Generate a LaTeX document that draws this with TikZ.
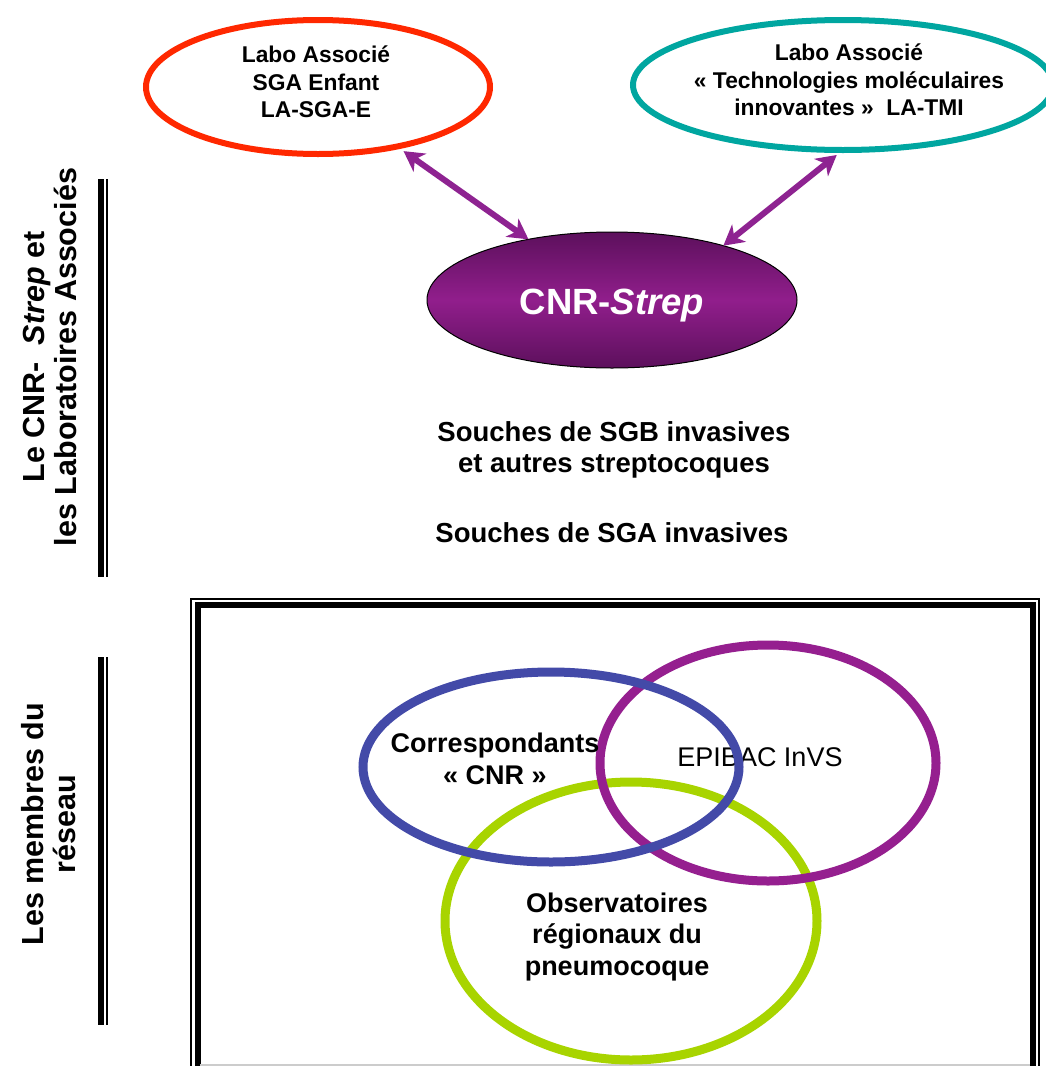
\documentclass[tikz,border=0pt]{standalone}
\usepackage{fontspec}
\setmainfont{Liberation Sans}
\usetikzlibrary{shapes.geometric,arrows.meta}
\definecolor{labred}{RGB}{255,40,0}
\definecolor{labteal}{RGB}{0,166,160}
\definecolor{cnrdark}{RGB}{92,16,92}
\definecolor{cnrlight}{RGB}{145,30,140}
\definecolor{arrowpurple}{RGB}{142,35,145}
\definecolor{vennblue}{RGB}{67,74,168}
\definecolor{vennpurple}{RGB}{149,31,143}
\definecolor{venngreen}{RGB}{168,212,0}
\begin{document}
\begin{tikzpicture}[x=1pt,y=-1pt,
  oval/.style={ellipse, inner sep=0pt, outer sep=0pt},
  labtext/.style={align=center, font=\fontsize{22.8}{27.5}\selectfont\bfseries},
  bigtext/.style={align=center, font=\fontsize{27.5}{31}\selectfont\bfseries},
  sidetext/.style={rotate=90, align=center, font=\fontsize{30.5}{32}\selectfont\bfseries},
  venntext/.style={align=center, font=\fontsize{27}{31.5}\selectfont\bfseries},
  vennring/.style={oval, line width=9pt},
  tipshape/.tip={Stealth[length=20pt,width=22pt,inset=6pt]},
  linkarrow/.style={draw=arrowpurple, line width=6pt, tipshape-tipshape},
  sidebar/.style={line width=6pt},
  sidebarthin/.style={line width=2pt}]
\useasboundingbox (0,0) rectangle (1046,1066);

% top ellipses
\node[oval, draw=labred, line width=6pt, minimum width=344pt, minimum height=134pt] (red) at (318,87) {};
\node[labtext] (redtxt) at (316,82) {Labo Associé\\SGA Enfant\\LA-SGA-E};
\node[oval, draw=labteal, line width=6pt, minimum width=420pt, minimum height=130pt] (teal) at (843,85) {};
\node[labtext] (tealtxt) at (849,80) {Labo Associé\\«~Technologies moléculaires\\innovantes »\ \ LA-TMI};

% CNR ellipse
\node[oval, draw=black, line width=1pt, minimum width=370pt, minimum height=136pt,
      top color=cnrdark, bottom color=cnrdark, middle color=cnrlight] (cnr) at (612,300) {};
\node[font=\fontsize{36.5}{40}\selectfont\bfseries, text=white] (cnrtxt) at (612,306) {CNR-\textit{Strep}};

% arrows
\draw[linkarrow, shorten <=8pt] (red.-37.6) -- (cnr.144.9);
\draw[linkarrow, shorten <=8pt] (teal.south) -- (cnr.26.8);

% texts
\node[bigtext] (sgb) at (614,450) {Souches de SGB invasives\\et autres streptocoques};
\node[bigtext] (sga) at (612,533) {Souches de SGA invasives};

% side labels and bars
\node[sidetext] (sidetop) at (50,357) {Le CNR-\ \ \textit{Strep} et\\les Laboratoires Associés};
\node[sidetext] (sidebot) at (49,824) {Les membres du\\réseau};
\draw[sidebar] (101,179) -- (101,577);
\draw[sidebarthin] (106.7,179) -- (106.7,577);
\draw[sidebar] (101,657) -- (101,1025);
\draw[sidebarthin] (106.7,657) -- (106.7,1025);

% big box
\draw[line width=2pt] (191,599) rectangle (1039,1080);
\draw[line width=6pt] (197.5,605) rectangle (1033,1074);
\draw[line width=1.5pt, black!20] (200,1065) -- (1030,1065);

% Venn
\node[vennring, draw=venngreen, minimum width=372pt, minimum height=278pt] (green) at (631,921) {};
\node[vennring, draw=vennpurple, minimum width=336pt, minimum height=236pt] (purple) at (768,763) {};
\node[font=\fontsize{27}{31}\selectfont] (epi) at (760,757) {EPIBAC InVS};
\node[vennring, draw=vennblue, minimum width=376pt, minimum height=190pt] (blue) at (551,767) {};
\node[venntext] (corr) at (495,759) {Correspondants\\«~CNR~»};
\node[venntext] (obs) at (617,937) {Observatoires\\régionaux du\\pneumocoque};
\end{tikzpicture}
\end{document}
